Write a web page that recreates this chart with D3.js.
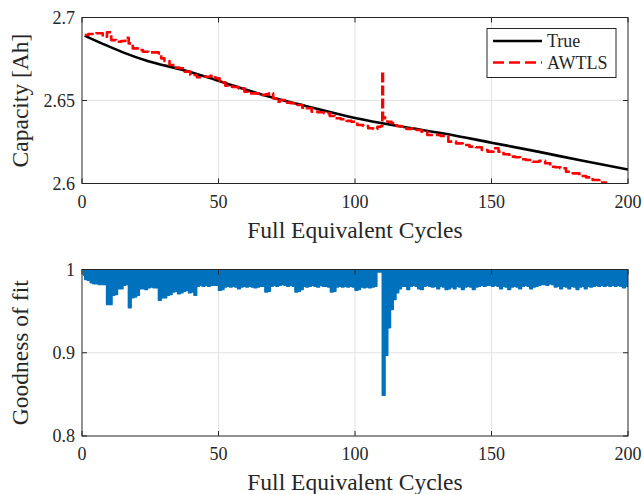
<!DOCTYPE html>
<html>
<head>
<meta charset="utf-8">
<script src="https://cdn.jsdelivr.net/npm/d3@7"></script>
<style>
  body { margin: 0; background: #fff; }
  text { font-family: "Liberation Serif", "DejaVu Serif", serif; fill: #262626; }
</style>
</head>
<body>
<div id="chart"></div>
<script>
"use strict";

// --- 1. DATA ---
const xTicks = [0, 50, 100, 150, 200];
const capTicks = [2.6, 2.65, 2.7];
const capTickLabels = ["2.6", "2.65", "2.7"];
const gofTicks = [0.8, 0.9, 1];
const gofTickLabels = ["0.8", "0.9", "1"];

const trueCycles = [1, 7, 15, 24, 37, 49, 66, 83, 100, 117, 133, 150, 167, 183, 200];
const trueCap = [2.6890, 2.6846, 2.6790, 2.6738, 2.6684, 2.6624, 2.6535, 2.6463, 2.6395, 2.6343, 2.6300, 2.6246, 2.6192, 2.6138, 2.6084];

const awtlsCycles = [1, 3.7, 6.7, 8.5, 9.8, 11.6, 13.4, 15.3, 16.5, 17.7, 19.5, 21.4, 23.2, 25.6, 27.5, 28.7, 29.3, 31.1, 33, 34.8,
    36.6, 38.5, 40.9, 43.3, 45.8, 48.2, 49.5, 51.3, 53.7, 56.2, 58.6, 60.4, 62.3, 64.7, 66.5, 67.9, 69.1, 70.9, 71.5, 73.4,
    75.2, 77.7, 80.1, 81.3, 83.2, 85, 87.4, 89.8, 91.7, 93.5, 96, 97.8, 99.6, 102.1, 103.9, 105.7, 107.6, 108.8, 109.9, 110.1,
    110.4, 111.2, 112.5, 114.3, 116.1, 117.9, 119.8, 121.6, 123.4, 125.3, 127.7, 130.1, 132.6, 135.8, 138.2, 140.7, 143.1, 145.5, 147.4, 149.8,
    151.6, 153.5, 155.3, 157.8, 159.6, 161.4, 163.8, 166.3, 168.7, 170.6, 172.4, 174.2, 176.1, 178.5, 181, 183.4, 185.8, 188.3, 190.7, 193.2,
    196, 200];
const awtlsCap = [2.6895, 2.6901, 2.6905, 2.6884, 2.6911, 2.6864, 2.6854, 2.6858, 2.6878, 2.6844, 2.6814, 2.6804, 2.6794, 2.6790, 2.6790, 2.6784, 2.6754, 2.6738, 2.6714, 2.6698,
    2.6694, 2.6674, 2.6654, 2.6640, 2.6643, 2.6649, 2.6634, 2.6610, 2.6589, 2.6581, 2.6573, 2.6553, 2.6543, 2.6543, 2.6533, 2.6537, 2.6543, 2.6513, 2.6493, 2.6503,
    2.6487, 2.6483, 2.6473, 2.6457, 2.6453, 2.6433, 2.6429, 2.6423, 2.6407, 2.6393, 2.6387, 2.6377, 2.6372, 2.6352, 2.6346, 2.6333, 2.6328, 2.6342, 2.6345, 2.6675,
    2.6400, 2.6393, 2.6372, 2.6363, 2.6346, 2.6342, 2.6328, 2.6333, 2.6322, 2.6312, 2.6292, 2.6292, 2.6286, 2.6252, 2.6242, 2.6232, 2.6222, 2.6218, 2.6202, 2.6192,
    2.6212, 2.6192, 2.6176, 2.6162, 2.6158, 2.6146, 2.6142, 2.6131, 2.6136, 2.6122, 2.6101, 2.6098, 2.6092, 2.6071, 2.6061, 2.6045, 2.6037, 2.6021, 2.6005, 2.5991,
    2.5980, 2.5960];

// lower edge of the goodness-of-fit band, one value per cycle (1..200)
const gofStart = 0.6;
const gofLow = [
    0.993, 0.988, 0.987, 0.984, 0.983, 0.983, 0.982, 0.982, 0.982, 0.958,
    0.958, 0.969, 0.970, 0.977, 0.977, 0.981, 0.982, 0.954, 0.966, 0.967,
    0.969, 0.977, 0.977, 0.976, 0.978, 0.979, 0.978, 0.978, 0.963, 0.966,
    0.966, 0.969, 0.970, 0.973, 0.974, 0.971, 0.972, 0.974, 0.975, 0.972,
    0.973, 0.969, 0.980, 0.981, 0.980, 0.981, 0.980, 0.981, 0.981, 0.981,
    0.975, 0.976, 0.979, 0.980, 0.979, 0.980, 0.979, 0.977, 0.979, 0.980,
    0.979, 0.980, 0.979, 0.978, 0.979, 0.980, 0.980, 0.973, 0.974, 0.980,
    0.981, 0.980, 0.981, 0.982, 0.981, 0.980, 0.981, 0.980, 0.973, 0.974,
    0.976, 0.980, 0.979, 0.980, 0.981, 0.980, 0.979, 0.981, 0.980, 0.980,
    0.979, 0.973, 0.974, 0.979, 0.980, 0.979, 0.980, 0.979, 0.980, 0.979,
    0.975, 0.976, 0.979, 0.978, 0.979, 0.978, 0.979, 0.980, 0.997, 0.997,
    0.849, 0.897, 0.930, 0.952, 0.964, 0.972, 0.977, 0.980, 0.980, 0.976,
    0.980, 0.981, 0.980, 0.977, 0.976, 0.980, 0.981, 0.980, 0.979, 0.980,
    0.977, 0.980, 0.979, 0.976, 0.977, 0.979, 0.977, 0.980, 0.979, 0.976,
    0.979, 0.980, 0.979, 0.976, 0.979, 0.980, 0.981, 0.980, 0.981, 0.981,
    0.980, 0.981, 0.980, 0.977, 0.980, 0.979, 0.976, 0.979, 0.980, 0.979,
    0.977, 0.980, 0.981, 0.980, 0.977, 0.979, 0.980, 0.981, 0.982, 0.982,
    0.981, 0.983, 0.982, 0.979, 0.980, 0.977, 0.980, 0.979, 0.977, 0.980,
    0.979, 0.976, 0.979, 0.980, 0.977, 0.980, 0.979, 0.980, 0.981, 0.980,
    0.981, 0.980, 0.981, 0.980, 0.981, 0.980, 0.981, 0.980, 0.978, 0.980
];

// --- 2. LAYOUT ---
const W = 644, H = 494;
const L = { left: 82, right: 628, top1: 17.5, bot1: 183.5, top2: 269.5, bot2: 436, tick: 5 };
const C = { axis: "#262626", grid: "#e3e3e3", red: "#ff0000", blue: "#0072bd" };
const F = { tick: 18, label: 23.5, legend: 18 };

const svg = d3.select("#chart").append("svg").attr("width", W).attr("height", H);
const defs = svg.append("defs");

const x = d3.scaleLinear().domain([0, 200]).range([L.left, L.right]);
const yCap = d3.scaleLinear().domain([2.6, 2.7]).range([L.bot1, L.top1]);
const yGof = d3.scaleLinear().domain([0.8, 1]).range([L.bot2, L.top2]);

// --- 3. AXES FRAME ---
function drawFrame(y, top, bot, ticks, labels, yLabel, id) {
    const g = svg.append("g");
    defs.append("clipPath").attr("id", id).append("rect")
        .attr("x", L.left).attr("y", top).attr("width", L.right - L.left).attr("height", bot - top);

    // grid
    g.selectAll(".gx").data(xTicks.slice(1, -1)).enter().append("line")
        .attr("x1", d => x(d)).attr("x2", d => x(d)).attr("y1", top).attr("y2", bot)
        .attr("stroke", C.grid).attr("stroke-width", 1);
    g.selectAll(".gy").data(ticks.slice(1, -1)).enter().append("line")
        .attr("x1", L.left).attr("x2", L.right).attr("y1", d => y(d)).attr("y2", d => y(d))
        .attr("stroke", C.grid).attr("stroke-width", 1);

    // tick labels
    g.selectAll(".tx").data(xTicks).enter().append("text")
        .attr("x", d => x(d)).attr("y", bot + 18).attr("dy", "0.35em")
        .attr("text-anchor", "middle").style("font-size", F.tick + "px").text(d => d);
    g.selectAll(".ty").data(ticks).enter().append("text")
        .attr("x", L.left - 7).attr("y", d => y(d)).attr("dy", "0.35em")
        .attr("text-anchor", "end").style("font-size", F.tick + "px").text((d, i) => labels[i]);

    // axis labels
    g.append("text").attr("x", (L.left + L.right) / 2).attr("y", bot + 46).attr("dy", "0.35em")
        .attr("text-anchor", "middle").style("font-size", F.label + "px").text("Full Equivalent Cycles");
    g.append("text").attr("transform", `translate(20,${(top + bot) / 2}) rotate(-90)`).attr("dy", "0.35em")
        .attr("text-anchor", "middle").style("font-size", F.label + "px").text(yLabel);
    return g;
}

function drawBox(y, top, bot, ticks) {
    const g = svg.append("g");
    const t = L.tick;
    g.selectAll(".kb").data(xTicks).enter().append("path")
        .attr("d", d => `M${x(d)},${bot}v${-t}M${x(d)},${top}v${t}`)
        .attr("stroke", C.axis).attr("stroke-width", 1);
    g.selectAll(".kl").data(ticks).enter().append("path")
        .attr("d", d => `M${L.left},${y(d)}h${t}M${L.right},${y(d)}h${-t}`)
        .attr("stroke", C.axis).attr("stroke-width", 1);
    g.append("rect").attr("x", L.left).attr("y", top).attr("width", L.right - L.left).attr("height", bot - top)
        .attr("fill", "none").attr("stroke", C.axis).attr("stroke-width", 1);
}

// --- 4. TOP PANEL: CAPACITY ---
drawFrame(yCap, L.top1, L.bot1, capTicks, capTickLabels, "Capacity [Ah]", "clip1");

const trueLine = d3.line().curve(d3.curveMonotoneX).x(d => x(d[0])).y(d => yCap(d[1]));
const awtlsLine = d3.line().curve(d3.curveStep).x(d => x(d[0])).y(d => yCap(d[1]));
const plot1 = svg.append("g").attr("clip-path", "url(#clip1)");

plot1.append("path")
    .attr("d", trueLine(trueCycles.map((c, i) => [c, trueCap[i]])))
    .attr("fill", "none").attr("stroke", "#000").attr("stroke-width", 2.6).attr("stroke-linejoin", "round");

plot1.append("path")
    .attr("d", awtlsLine(awtlsCycles.map((c, i) => [c, awtlsCap[i]])))
    .attr("fill", "none").attr("stroke", C.red).attr("stroke-width", 2.6)
    .attr("stroke-dasharray", "10,3").attr("stroke-linejoin", "round");

drawBox(yCap, L.top1, L.bot1, capTicks);

// legend
const lg = svg.append("g").attr("transform", "translate(487,28.5)");
lg.append("rect").attr("width", 129).attr("height", 49)
    .attr("fill", "#fff").attr("stroke", C.axis).attr("stroke-width", 1);
const legendItems = [["True", "#000", null], ["AWTLS", C.red, "11,5"]];
legendItems.forEach(([name, col, dash], i) => {
    const yy = 12.5 + i * 21.5;
    lg.append("line").attr("x1", 6).attr("x2", 55).attr("y1", yy).attr("y2", yy)
        .attr("stroke", col).attr("stroke-width", 2.6).attr("stroke-dasharray", dash);
    lg.append("text").attr("x", 60).attr("y", yy).attr("dy", "0.35em")
        .style("font-size", F.legend + "px").text(name);
});

// --- 5. BOTTOM PANEL: GOODNESS OF FIT ---
drawFrame(yGof, L.top2, L.bot2, gofTicks, gofTickLabels, "Goodness of fit", "clip2");

const gofPts = [[gofStart, gofLow[0]]].concat(gofLow.map((v, i) => [i + 1, v]));
const gofArea = d3.area().curve(d3.curveStepBefore)
    .x(d => x(d[0])).y0(yGof(1)).y1(d => yGof(d[1]));

svg.append("g").attr("clip-path", "url(#clip2)").append("path")
    .attr("d", gofArea(gofPts))
    .attr("fill", C.blue).attr("stroke", C.blue).attr("stroke-width", 1.5).attr("stroke-linejoin", "round");

drawBox(yGof, L.top2, L.bot2, gofTicks);
</script>
</body>
</html>
